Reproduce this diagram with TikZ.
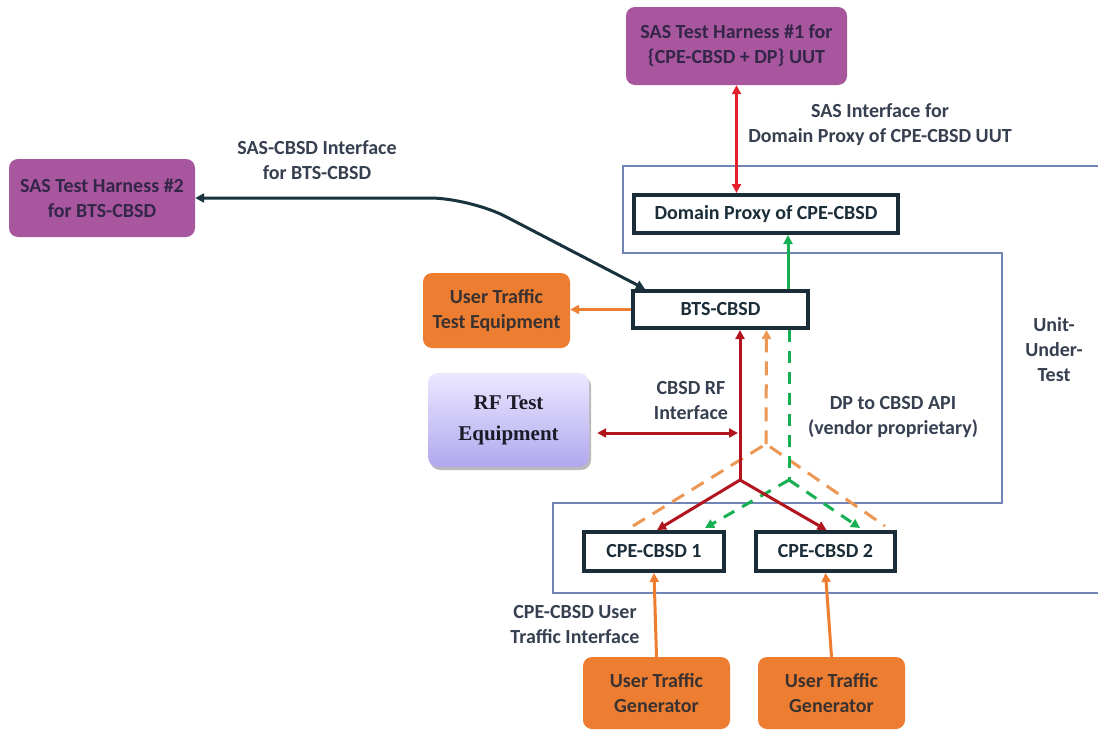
\documentclass[tikz,border=0pt]{standalone}
\usepackage{fontspec}
\setmainfont{Carlito}
\newfontfamily\rmserif{Liberation Serif}
\usetikzlibrary{arrows.meta,shadows}
\definecolor{purp}{RGB}{168,86,158}
\definecolor{purptxt}{RGB}{52,38,72}
\definecolor{orng}{RGB}{237,125,49}
\definecolor{orngtxt}{RGB}{58,50,48}
\definecolor{dkbox}{RGB}{27,45,56}
\definecolor{lavtop}{RGB}{236,232,255}
\definecolor{lavbot}{RGB}{176,168,238}
\definecolor{bndcol}{RGB}{112,132,182}
\definecolor{lbltxt}{RGB}{55,64,80}
\definecolor{redA}{RGB}{228,32,42}
\definecolor{redB}{RGB}{178,20,30}
\definecolor{grn}{RGB}{22,176,82}
\definecolor{orgdash}{RGB}{236,152,84}
\definecolor{dkarrow}{RGB}{24,50,62}
\begin{document}
\begin{tikzpicture}[x=1pt,y=-1pt,
  basefont/.style={font=\fontsize{20}{25}\selectfont\bfseries},
  purpbox/.style={basefont, fill=purp, text=purptxt, rounded corners=9pt, align=center, inner sep=0pt},
  orngbox/.style={basefont, fill=orng, text=orngtxt, rounded corners=9pt, align=center, inner sep=0pt},
  darkbox/.style={basefont, draw=dkbox, line width=4pt, fill=white, text=dkbox, align=center, inner sep=0pt},
  lbl/.style={basefont, text=lbltxt, align=center, inner sep=0pt},
  tip/.style={-{Triangle[length=9pt,width=9pt]}},
  btip/.style={{Triangle[length=9pt,width=9pt]}-{Triangle[length=9pt,width=9pt]}},
  rtip/.style={{Triangle[length=9pt,width=9pt]}-},
  bnd/.style={draw=bndcol, line width=1.3pt},
  orgD/.style={draw=orgdash, line width=3pt, dash pattern=on 14pt off 9pt},
  grnD/.style={draw=grn, line width=3pt, dash pattern=on 12pt off 9pt}
]
\useasboundingbox (0,0) rectangle (1098,731);
\fill[white] (0,0) rectangle (1098,731);

% unit-under-test boundary
\draw[bnd] (1098,166) -- (623,166) -- (623,253) -- (1002,253) -- (1002,503) -- (553,503) -- (553,593) -- (1098,593);

% nodes
\node[purpbox, minimum width=221pt, minimum height=78pt] (h1) at (736.5,46) {SAS Test Harness \#1 for\\\{CPE-CBSD + DP\} UUT};
\node[purpbox, minimum width=186pt, minimum height=78pt] (h2) at (102,198) {SAS Test Harness \#2\\for BTS-CBSD};
\node[darkbox, minimum width=264pt, minimum height=38pt] (dp) at (766,214) {Domain Proxy of CPE-CBSD};
\node[darkbox, minimum width=175pt, minimum height=37pt] (bts) at (720.5,309.5) {BTS-CBSD};
\node[orngbox, minimum width=147pt, minimum height=75pt] (ute) at (496.5,310.5) {User Traffic\\Test Equipment};
\node[top color=lavtop, bottom color=lavbot, rounded corners=10pt, minimum width=161pt, minimum height=94pt,
      drop shadow={shadow xshift=2pt, shadow yshift=-3pt, opacity=0.45, fill=black!60},
      align=center, inner sep=0pt, text={rgb,255:red,26;green,26;blue,40},
      font=\rmserif\bfseries\fontsize{21}{31}\selectfont] (rf) at (508.5,420) {RF Test\\Equipment};
\node[darkbox, minimum width=140pt, minimum height=39pt] (c1) at (654,551.5) {CPE-CBSD 1};
\node[darkbox, minimum width=139pt, minimum height=39pt] (c2) at (825.5,551.5) {CPE-CBSD 2};
\node[orngbox, minimum width=147pt, minimum height=72pt] (g1) at (656.5,693) {User Traffic\\Generator};
\node[orngbox, minimum width=147pt, minimum height=72pt] (g2) at (831.5,693) {User Traffic\\Generator};

% labels
\node[lbl] (l1) at (880,124.5) {SAS Interface for\\Domain Proxy of CPE-CBSD UUT};
\node[lbl] (l2) at (317,160) {SAS-CBSD Interface\\for BTS-CBSD};
\node[lbl] (l3) at (691,401) {CBSD RF\\Interface};
\node[lbl] (l4) at (893,417) {DP to CBSD API\\(vendor proprietary)};
\node[lbl] (l5) at (1054,350) {Unit-\\Under-\\Test};
\node[lbl] (l6) at (575,625) {CPE-CBSD User\\Traffic Interface};

% coordinates
\coordinate (bend) at (470,198);
\coordinate (rs) at (740,480);
\coordinate (rfT) at (738,433);
\coordinate (os) at (766,444);
\coordinate (oL) at (633,526);
\coordinate (oR) at (885,526);
\coordinate (gs) at (789,480);
\coordinate (gL) at (705,528);
\coordinate (gR) at (860,528);

% connectors
\draw[redA, line width=3pt, btip] (h1.south) -- (h1.south |- dp.north);
\draw[dkarrow, line width=3pt, btip, rounded corners=40pt] (h2.east) -- (bend) -- ([xshift=14pt]bts.north west);
\draw[grn, line width=3pt, tip] ([xshift=67.5pt]bts.north) -- ([xshift=67.5pt]bts.north |- dp.south);
\draw[orng, line width=3pt, tip] (bts.west) -- (bts.west -| ute.east);

\draw[orgD] (oL) -- (os) -- (oR);
\draw[orgD, rtip] ([xshift=46pt]bts.south) -- (os);
\draw[grnD] ([xshift=68.5pt]bts.south) -- (gs);
\draw[grnD, tip] (gs) -- (gL);
\draw[grnD, tip] (gs) -- (gR);

\draw[redB, line width=3pt, rtip] ([xshift=19.5pt]bts.south) -- (rs);
\draw[redB, line width=3pt, tip] (rs) -- ([xshift=3pt]c1.north);
\draw[redB, line width=3pt, tip] (rs) -- ([xshift=1pt]c2.north);
\draw[redB, line width=3pt, btip] ([xshift=8pt,yshift=-13pt]rf.east) -- (rfT);

\draw[orng, line width=3pt, tip] (g1.north) -- (c1.south);
\draw[orng, line width=3pt, tip] (g2.north) -- (c2.south);
\end{tikzpicture}
\end{document}
